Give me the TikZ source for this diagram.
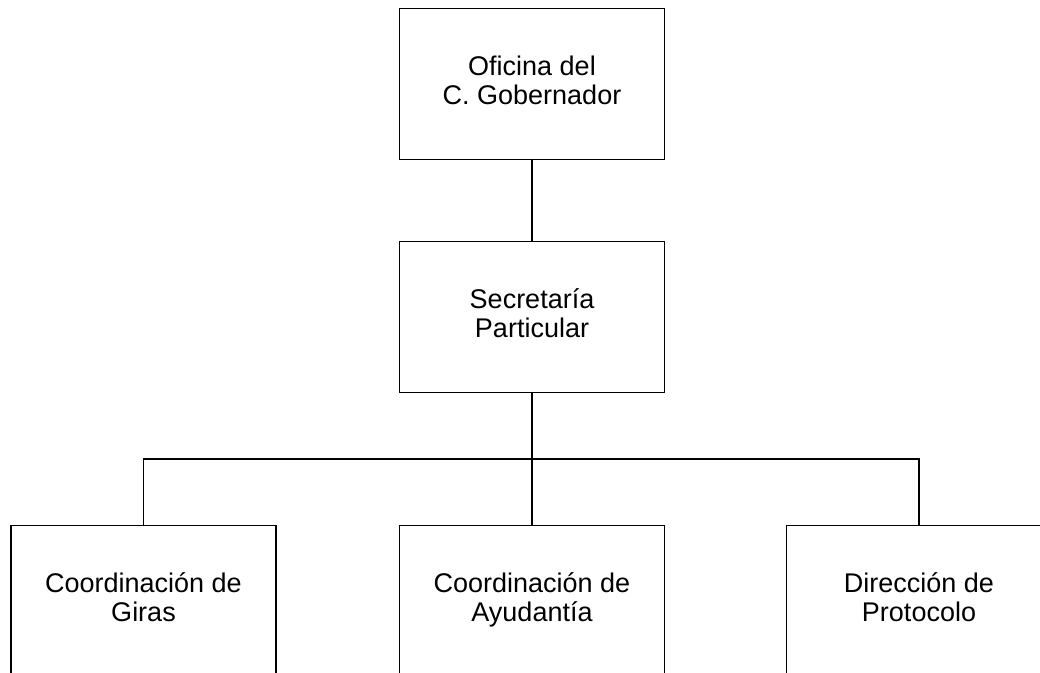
\documentclass[tikz,border=0pt]{standalone}
\usepackage{fontspec}
\setmainfont{Liberation Sans}
\newcommand{\twolines}[2]{\strut #1\\\strut #2}
\begin{document}
\begin{tikzpicture}[x=1pt,y=-1pt,
  orgbox/.style={draw,line width=1.3pt,minimum width=265pt,minimum height=151pt,
    inner sep=0pt,align=center,font=\fontsize{27}{29}\selectfont},
  conn/.style={line width=1.5pt}]
\useasboundingbox (0,0) rectangle (1040,672);
\clip (0,0) rectangle (1040,672);
\node[orgbox] (ofi) at (532,84) {\twolines{Oficina del}{C. Gobernador}};
\node[orgbox] (sec) at (532,317) {\twolines{Secretaría}{Particular}};
\node[orgbox] (giras) at (143.5,601) {\twolines{Coordinación de}{Giras}};
\node[orgbox] (ayud) at (532,601) {\twolines{Coordinación de}{Ayudantía}};
\node[orgbox] (proto) at (919,601) {\twolines{Dirección de}{Protocolo}};
\coordinate (bus) at (532,459);
\draw[conn] (ofi.south) -- (sec.north);
\draw[conn] (sec.south) -- (bus);
\draw[conn] (giras.north) |- (bus) -| (proto.north);
\draw[conn] (bus) -- (ayud.north);
\end{tikzpicture}
\end{document}
